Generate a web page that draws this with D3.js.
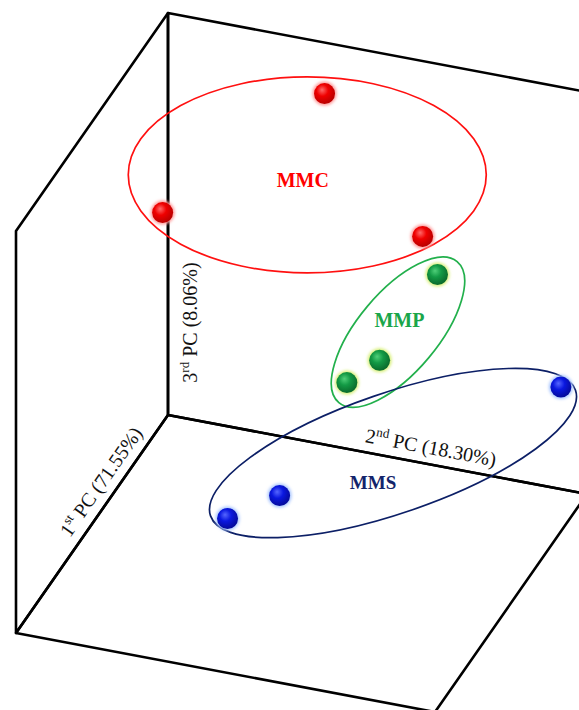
<!DOCTYPE html>
<html>
<head>
<meta charset="utf-8">
<script src="https://cdn.jsdelivr.net/npm/d3@7"></script>
<style>
  html, body { margin: 0; padding: 0; background: #fff; }
  svg { display: block; }
</style>
</head>
<body>
<svg id="chart" width="579" height="710"></svg>
<script>
// PCA scores of the nine samples (three per group)
const sampleGroup = ["MMC", "MMC", "MMC", "MMP", "MMP", "MMP", "MMS", "MMS", "MMS"];
const pc1 = [-2.80, -1.60, -3.20, -1.60, -1.20, -0.80, -3.20, 0.80, 1.60];
const pc2 = [-0.36, -2.02, 0.72, 1.26, 0.66, 0.36, 2.37, -0.08, -0.52];
const pc3 = [0.93, 0.37, 0.25, 0.32, -0.10, -0.18, -0.37, -0.56, -0.60];

// Groups and explained variance of each component
const groups = ["MMC", "MMP", "MMS"];
const axisOrdinal = ["1", "2", "3"];
const axisSuffix = ["st", "nd", "rd"];
const explained = ["71.55", "18.30", "8.06"];

// ---- styling -------------------------------------------------------------
const groupStyle = {
  MMC: { text: "#ff0000", ring: "#ff1010", hi: "#ff6a6a", mid: "#f00000", lo: "#b80000", glow: "#ff9a9a" },
  MMP: { text: "#1aa64a", ring: "#22b04c", hi: "#4fcf79", mid: "#139a45", lo: "#0a6a2c", glow: "#d8f07a" },
  MMS: { text: "#13246b", ring: "#0c1f66", hi: "#5566ff", mid: "#0a18e0", lo: "#050a9a", glow: "#a9c6ff" }
};
// ring layout relative to the projected centroid of each group (px, deg)
const ringLayout = {
  MMC: { dx: 4, dy: -6, rx: 179, ry: 98, rot: 0, lx: -4.5, ly: 12, fs: 20 },
  MMP: { dx: 10, dy: -7, rx: 92, ry: 40, rot: -50, lx: 1.5, ly: -5, fs: 20 },
  MMS: { dx: 37, dy: -14, rx: 193, ry: 60, rot: -19, lx: -20, ly: 36, fs: 19 }
};

// ---- oblique projection of the PC box -----------------------------------
const origin = [168, 415];
const e1 = [-152, 218];  // PC1 runs toward the viewer
const e2 = [419, 79];    // PC2 runs to the right
const e3 = [0, -402];    // PC3 runs up

const s1 = d3.scaleLinear().domain([-4, 4]).range([0, 1]);
const s2 = d3.scaleLinear().domain([-2.5, 2.5]).range([0, 1]);
const s3 = d3.scaleLinear().domain([-1, 1]).range([0, 1]);

function proj(a, b, c) {
  return [
    origin[0] + a * e1[0] + b * e2[0] + c * e3[0],
    origin[1] + a * e1[1] + b * e2[1] + c * e3[1]
  ];
}

const svg = d3.select("#chart");
const defs = svg.append("defs");

defs.append("filter").attr("id", "halo")
  .attr("x", "-50%").attr("y", "-50%").attr("width", "200%").attr("height", "200%")
  .append("feGaussianBlur").attr("stdDeviation", 1.8);

groups.forEach(g => {
  const st = groupStyle[g];
  const grad = defs.append("radialGradient").attr("id", "ball-" + g)
    .attr("cx", "42%").attr("cy", "38%").attr("r", "62%")
    .attr("fx", "38%").attr("fy", "32%");
  grad.append("stop").attr("offset", "0%").attr("stop-color", st.hi);
  grad.append("stop").attr("offset", "45%").attr("stop-color", st.mid);
  grad.append("stop").attr("offset", "100%").attr("stop-color", st.lo);
});

// ---- box: left wall, back wall and floor --------------------------------
const faces = [
  [[0, 0, 0], [1, 0, 0], [1, 0, 1], [0, 0, 1]],
  [[0, 0, 0], [0, 1, 0], [0, 1, 1], [0, 0, 1]],
  [[0, 0, 0], [1, 0, 0], [1, 1, 0], [0, 1, 0]]
];
const line = d3.line();
svg.append("g").selectAll("path").data(faces).join("path")
  .attr("d", f => line(f.map(p => proj(...p))) + "Z")
  .attr("fill", "none")
  .attr("stroke", "#000")
  .attr("stroke-width", 2.6)
  .attr("stroke-linejoin", "round");

// ---- axis titles ---------------------------------------------------------
const angle = v => Math.atan2(v[1], v[0]) * 180 / Math.PI;
const axisPlace = [
  // fraction along axis, perpendicular offset, reading direction, rotation
  { t: 0.35, off: 10, dir: [-e1[0], -e1[1]], rot: angle([-e1[0], -e1[1]]) },
  { t: 0.62, off: 10, dir: e2, rot: angle(e2) },
  { t: 0.23, off: 29, dir: [-e3[0], -e3[1]], rot: -90 }
];
const titles = svg.append("g")
  .attr("font-family", "'Liberation Serif', 'Times New Roman', serif")
  .attr("font-size", 20)
  .attr("fill", "#111");
axisOrdinal.forEach((ord, i) => {
  const ax = [e1, e2, e3][i];
  const pl = axisPlace[i];
  const len = Math.hypot(pl.dir[0], pl.dir[1]);
  const n = [pl.dir[1] / len, -pl.dir[0] / len];
  const base = [origin[0] + ax[0] * pl.t, origin[1] + ax[1] * pl.t];
  const px = base[0] + n[0] * pl.off, py = base[1] + n[1] * pl.off;
  const t = titles.append("text")
    .attr("text-anchor", "middle")
    .attr("transform", `translate(${px},${py}) rotate(${pl.rot})`);
  t.append("tspan").text(ord);
  t.append("tspan").attr("font-size", 13).attr("dy", -8).text(axisSuffix[i]);
  t.append("tspan").attr("font-size", 20).attr("dy", 8).text(` PC (${explained[i]}%)`);
});

// ---- samples -------------------------------------------------------------
const samples = sampleGroup.map((g, i) => {
  const a = s1(pc1[i]), b = s2(pc2[i]), c = s3(pc3[i]);
  const [x, y] = proj(a, b, c);
  return { g, a, x, y };
});

// ---- group rings and names ----------------------------------------------
const ringG = svg.append("g");
const nameG = svg.append("g")
  .attr("font-family", "'Liberation Serif', 'Times New Roman', serif")
  .attr("font-weight", "bold")
  .attr("text-anchor", "middle");
groups.forEach(g => {
  const pts = samples.filter(s => s.g === g);
  const cx = d3.mean(pts, s => s.x) + ringLayout[g].dx;
  const cy = d3.mean(pts, s => s.y) + ringLayout[g].dy;
  const L = ringLayout[g];
  ringG.append("ellipse")
    .attr("cx", 0).attr("cy", 0).attr("rx", L.rx).attr("ry", L.ry)
    .attr("transform", `translate(${cx},${cy}) rotate(${L.rot})`)
    .attr("fill", "none")
    .attr("stroke", groupStyle[g].ring)
    .attr("stroke-width", 1.7);
  nameG.append("text")
    .attr("x", cx + L.lx).attr("y", cy + L.ly)
    .attr("font-size", L.fs)
    .attr("fill", groupStyle[g].text)
    .text(g);
});

// ---- spheres, far ones first ---------------------------------------------
const balls = svg.append("g").selectAll("g")
  .data(samples.slice().sort((p, q) => p.a - q.a))
  .join("g")
  .attr("transform", d => `translate(${d.x},${d.y})`);
balls.append("circle").attr("r", 12)
  .attr("fill", d => groupStyle[d.g].glow)
  .attr("filter", "url(#halo)");
balls.append("circle").attr("r", 10.5)
  .attr("fill", d => `url(#ball-${d.g})`);
</script>
</body>
</html>
